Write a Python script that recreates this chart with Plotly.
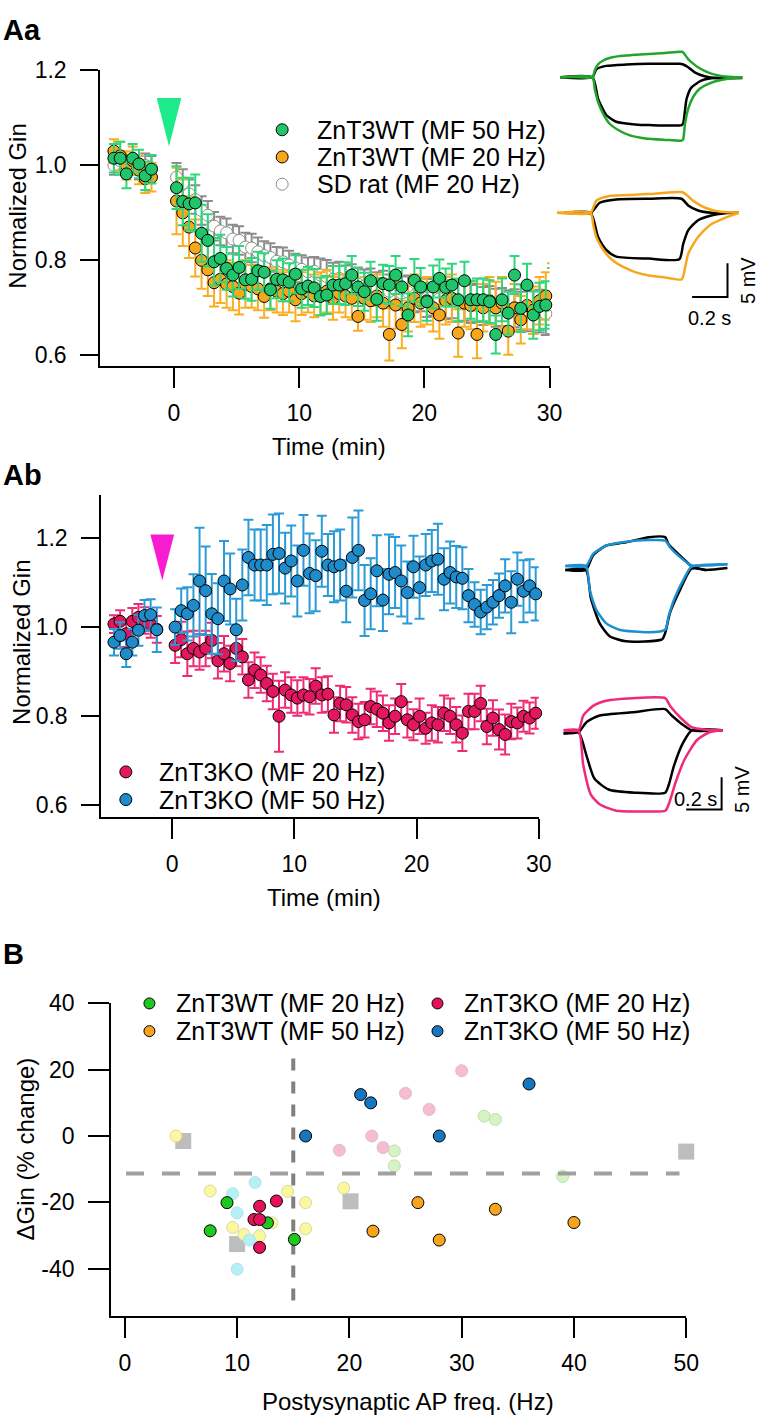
import plotly.graph_objects as go

W, H = 770, 1420
FONT = "Liberation Sans, Arial, Helvetica, sans-serif"
TICK_SIZE, TITLE_SIZE, LEGEND_SIZE, PANEL_SIZE, INSET_SIZE = 23, 24, 25, 29, 20

# ---------------- Panel Aa data (time in min, normalized Gin) ----------------
t_aa = [-4.8, -4.3, -3.8, -3.3, -2.8, -2.3, -1.8,
        0.2, 0.7, 1.2, 1.7, 2.2, 2.7, 3.2, 3.7, 4.2, 4.7, 5.2, 5.7, 6.2, 6.7, 7.2, 7.7, 8.2, 8.7,
        9.2, 9.7, 10.2, 10.7, 11.2, 11.7, 12.2, 12.7, 13.2, 13.7, 14.2, 14.7, 15.2, 15.7, 16.2,
        16.7, 17.2, 17.7, 18.2, 18.7, 19.2, 19.7, 20.2, 20.7, 21.2, 21.7, 22.2, 22.7, 23.2, 23.7,
        24.2, 24.7, 25.2, 25.7, 26.2, 26.7, 27.2, 27.7, 28.2, 28.7, 29.2, 29.7, 30.2]

gin_wt50 = [1.015, 1.015, 0.982, 1.015, 1.003, 0.978, 0.992,
            0.953, 0.924, 0.919, 0.921, 0.857, 0.842, 0.797, 0.804, 0.783, 0.769, 0.785, 0.759,
            0.760, 0.778, 0.775, 0.738, 0.760, 0.759, 0.754, 0.771, 0.740, 0.746, 0.742, 0.724,
            0.727, 0.748, 0.748, 0.751, 0.769, 0.744, 0.734, 0.757, 0.718, 0.751, 0.748, 0.769,
            0.744, 0.685, 0.758, 0.744, 0.713, 0.744, 0.762, 0.743, 0.748, 0.717, 0.757, 0.717,
            0.717, 0.717, 0.713, 0.644, 0.717, 0.689, 0.769, 0.699, 0.748, 0.685, 0.703, 0.706, 0.724]
err_wt50 = [0.03, 0.035, 0.03, 0.03, 0.03, 0.03, 0.03,
            0.045, 0.05, 0.055, 0.06, 0.06, 0.055, 0.05, 0.05, 0.045, 0.045,
            0.045, 0.04, 0.045, 0.04, 0.04, 0.04, 0.04, 0.045, 0.04, 0.04,
            0.04, 0.04, 0.04, 0.04, 0.04, 0.04, 0.04, 0.045, 0.04, 0.04,
            0.04, 0.04, 0.045, 0.04, 0.04, 0.04, 0.04, 0.045, 0.045, 0.04,
            0.04, 0.045, 0.04, 0.04, 0.045, 0.045, 0.04, 0.04, 0.045, 0.045,
            0.045, 0.04, 0.045, 0.045, 0.04, 0.05, 0.045, 0.05, 0.05, 0.05, 0.06]

gin_wt20 = [1.03, 1.02, 1.0, 1.01, 0.99, 0.972, 0.975,
            0.925, 0.90, 0.87, 0.826, 0.80, 0.78, 0.753, 0.76, 0.75, 0.745, 0.731, 0.75, 0.745,
            0.74, 0.724, 0.74, 0.735, 0.73, 0.735, 0.717, 0.73, 0.735, 0.725, 0.73, 0.735, 0.72,
            0.73, 0.725, 0.72, 0.682, 0.72, 0.715, 0.725, 0.71, 0.644, 0.706, 0.665, 0.70, 0.72,
            0.71, 0.715, 0.70, 0.685, 0.715, 0.72, 0.647, 0.71, 0.705, 0.644, 0.70, 0.715, 0.70,
            0.71, 0.651, 0.70, 0.675, 0.705, 0.695, 0.715, 0.725, 0.744]
err_wt20 = [0.025, 0.03, 0.03, 0.03, 0.03, 0.03, 0.03,
            0.07, 0.07, 0.065, 0.06, 0.06, 0.055, 0.05, 0.05, 0.05, 0.05,
            0.045, 0.05, 0.045, 0.045, 0.045, 0.045, 0.045, 0.045, 0.045, 0.045,
            0.045, 0.045, 0.045, 0.045, 0.045, 0.045, 0.04, 0.045, 0.045, 0.03,
            0.045, 0.045, 0.045, 0.05, 0.055, 0.05, 0.05, 0.05, 0.05, 0.05,
            0.05, 0.05, 0.05, 0.05, 0.05, 0.05, 0.05, 0.05, 0.05, 0.05,
            0.05, 0.055, 0.055, 0.05, 0.05, 0.05, 0.05, 0.05, 0.05, 0.05, 0.05]

gin_sd = [1.0, 1.01, 0.995, 1.0, 0.99, 1.0, 0.995,
          0.975, 0.962, 0.94, 0.928, 0.905, 0.895, 0.872, 0.862, 0.858, 0.845,
          0.842, 0.828, 0.826, 0.818, 0.81, 0.806, 0.798, 0.797, 0.79, 0.784,
          0.781, 0.776, 0.777, 0.769, 0.766, 0.76, 0.762, 0.754, 0.757, 0.75,
          0.746, 0.748, 0.74, 0.743, 0.735, 0.738, 0.731, 0.733, 0.726, 0.728,
          0.721, 0.724, 0.719, 0.716, 0.718, 0.711, 0.713, 0.708, 0.71, 0.704,
          0.706, 0.70, 0.702, 0.697, 0.699, 0.694, 0.696, 0.69, 0.693, 0.688, 0.69]
err_sd = [0.02, 0.02, 0.02, 0.02, 0.02, 0.025, 0.025,
          0.03, 0.03, 0.03, 0.03, 0.03, 0.03, 0.03, 0.03, 0.03, 0.03,
          0.03, 0.03, 0.03, 0.03, 0.03, 0.03, 0.03, 0.03, 0.03, 0.03,
          0.03, 0.03, 0.03, 0.035, 0.035, 0.035, 0.035, 0.035, 0.035, 0.035,
          0.035, 0.035, 0.035, 0.035, 0.035, 0.035, 0.035, 0.035, 0.035, 0.035,
          0.04, 0.04, 0.04, 0.04, 0.04, 0.04, 0.04, 0.04, 0.04, 0.04,
          0.04, 0.04, 0.04, 0.04, 0.04, 0.04, 0.045, 0.045, 0.045, 0.045, 0.045]

# ---------------- Panel Ab data ----------------
t_ab = [-4.75, -4.25, -3.75, -3.25, -2.75, -2.25, -1.75, -1.25,
        0.25, 0.75, 1.25, 1.75, 2.25, 2.75, 3.25, 3.75, 4.25, 4.75, 5.25, 5.75, 6.25, 6.75,
        7.25, 7.75, 8.25, 8.75, 9.25, 9.75, 10.25, 10.75, 11.25, 11.75, 12.25, 12.75, 13.25,
        13.75, 14.25, 14.75, 15.25, 15.75, 16.25, 16.75, 17.25, 17.75, 18.25, 18.75, 19.25,
        19.75, 20.25, 20.75, 21.25, 21.75, 22.25, 22.75, 23.25, 23.75, 24.25, 24.75, 25.25,
        25.75, 26.25, 26.75, 27.25, 27.75, 28.25, 28.75, 29.25, 29.75]

gin_ko20 = [1.007, 1.013, 0.985, 1.013, 1.022, 1.015, 1.006, 0.995,
            0.959, 0.972, 0.940, 0.952, 0.944, 0.952, 0.970, 0.924, 0.940, 0.918,
            0.952, 0.933, 0.881, 0.903, 0.892, 0.873, 0.855, 0.799, 0.858, 0.847,
            0.840, 0.847, 0.843, 0.867, 0.847, 0.849, 0.802, 0.828, 0.825, 0.802,
            0.787, 0.791, 0.821, 0.815, 0.806, 0.784, 0.799, 0.832, 0.791, 0.780,
            0.799, 0.772, 0.784, 0.780, 0.806, 0.799, 0.780, 0.761, 0.810, 0.810,
            0.828, 0.776, 0.795, 0.769, 0.758, 0.787, 0.784, 0.799, 0.795, 0.806]
err_ko20 = [0.02, 0.025, 0.03, 0.03, 0.03, 0.03, 0.03, 0.03,
            0.04, 0.04, 0.05, 0.04, 0.04, 0.04, 0.04, 0.04, 0.04, 0.04,
            0.04, 0.04, 0.04, 0.04, 0.04, 0.04, 0.04, 0.08, 0.04, 0.04,
            0.04, 0.04, 0.04, 0.04, 0.04, 0.04, 0.04, 0.04, 0.04, 0.04,
            0.04, 0.04, 0.04, 0.04, 0.04, 0.04, 0.04, 0.04, 0.04, 0.035,
            0.04, 0.035, 0.04, 0.04, 0.04, 0.04, 0.04, 0.04, 0.04, 0.04,
            0.04, 0.04, 0.04, 0.045, 0.045, 0.04, 0.035, 0.035, 0.035, 0.035]

gin_ko50 = [0.966, 0.981, 0.940, 0.966, 0.993, 1.026, 1.028, 0.994,
            1.000, 1.037, 1.030, 1.049, 1.104, 1.082, 1.030, 1.019, 1.104, 1.086,
            0.994, 1.095, 1.157, 1.140, 1.140, 1.140, 1.164, 1.166, 1.133, 1.149,
            1.104, 1.173, 1.121, 1.116, 1.171, 1.140, 1.136, 1.140, 1.081, 1.157,
            1.173, 1.060, 1.075, 1.127, 1.061, 1.119, 1.123, 1.104, 1.078, 1.136,
            1.089, 1.140, 1.149, 1.153, 1.108, 1.123, 1.113, 1.110, 1.071, 1.051,
            1.034, 1.045, 1.056, 1.071, 1.093, 1.056, 1.108, 1.081, 1.093, 1.075]
err_ko50 = [0.03, 0.03, 0.03, 0.03, 0.035, 0.035, 0.035, 0.05,
            0.04, 0.05, 0.06, 0.07, 0.12, 0.1, 0.09, 0.08, 0.09, 0.08,
            0.07, 0.08, 0.085, 0.08, 0.08, 0.09, 0.09, 0.09, 0.08, 0.08,
            0.08, 0.08, 0.09, 0.08, 0.08, 0.07, 0.08, 0.08, 0.07, 0.09,
            0.09, 0.08, 0.08, 0.08, 0.07, 0.09, 0.08, 0.08, 0.07, 0.07,
            0.07, 0.07, 0.07, 0.08, 0.07, 0.07, 0.07, 0.07, 0.06, 0.05,
            0.05, 0.05, 0.05, 0.05, 0.06, 0.07, 0.06, 0.07, 0.06, 0.06]

# ---------------- Panel B data (Hz, % change) ----------------
wt20_x = [7.6, 9.1, 12.7, 15.1]
wt20_y = [-28.6, -20.1, -26.2, -31.2]
wt50_x = [22.1, 26.1, 28.0, 33.0, 40.0]
wt50_y = [-28.7, -20.1, -31.4, -22.1, -26.1]
ko20_x = [11.5, 12.0, 12.0, 12.0, 13.5]
ko20_y = [-25.2, -25.2, -21.2, -33.6, -19.6]
ko50_x = [16.1, 21.0, 21.9, 28.0, 36.0]
ko50_y = [0.0, 12.5, 10.0, 0.0, 15.7]
pale_yellow_x = [4.55, 7.6, 9.6, 10.6, 12.0, 13.1, 14.5, 16.1, 16.1, 19.5]
pale_yellow_y = [0.0, -16.6, -27.6, -29.7, -30.1, -26.2, -16.7, -20.1, -28.0, -15.7]
pale_cyan_x = [9.6, 10.0, 11.1, 10.0, 11.6]
pale_cyan_y = [-17.4, -23.2, -31.4, -40.2, -14.0]
pale_pink_x = [19.1, 22.0, 23.0, 25.0, 27.1, 30.0]
pale_pink_y = [-4.3, 0.0, -3.5, 12.9, 8.0, 19.7]
pale_green_x = [24.0, 24.0, 32.0, 33.0, 39.0]
pale_green_y = [-4.5, -9.0, 6.0, 5.0, -12.2]
square_x = [5.2, 10.0, 20.1, 50.0]
square_y = [-1.5, -32.6, -19.7, -4.7]
HREF_Y, HREF_X0, HREF_X1 = -11.3, 0.1, 49.4
VREF_X, VREF_Y0, VREF_Y1 = 15.0, 23.4, -52.3

# ---------------- Example traces (time s, mV relative to baseline) ----------------
aa_g_up_t = [0.028, 0.10, 0.209, 0.222, 0.24, 0.27, 0.31, 0.36, 0.43, 0.528, 0.62, 0.715, 0.725, 0.75, 0.78, 0.806, 0.84, 0.88, 0.935, 1.0, 1.056]
aa_g_up_v = [0, 0.05, 0, 1.0, 1.9, 2.5, 2.9, 3.15, 3.3, 3.45, 3.6, 3.8, 3.6, 2.7, 2.0, 1.5, 1.0, 0.55, 0.2, 0.05, 0]
aa_g_dn_t = [0.028, 0.209, 0.222, 0.241, 0.269, 0.306, 0.352, 0.417, 0.509, 0.62, 0.713, 0.722, 0.731, 0.75, 0.778, 0.815, 0.861, 0.935, 1.056]
aa_g_dn_v = [0, 0, -1.7, -3.7, -5.4, -6.9, -7.8, -8.6, -9.1, -9.3, -9.4, -9.2, -7.1, -4.7, -2.9, -1.7, -1.0, -0.4, 0]
aa_gk_up_t = [0.028, 0.209, 0.231, 0.287, 0.40, 0.528, 0.70, 0.722, 0.75, 0.787, 0.843, 0.90, 1.056]
aa_gk_up_v = [0, 0, 1.2, 1.7, 1.9, 2.0, 2.0, 1.9, 1.5, 0.74, 0.15, -0.1, -0.1]
aa_gk_dn_t = [0.028, 0.209, 0.241, 0.287, 0.343, 0.45, 0.528, 0.713, 0.722, 0.741, 0.769, 0.824, 0.88, 1.0]
aa_gk_dn_v = [0, 0, -3.2, -5.6, -6.6, -7.0, -7.1, -7.1, -6.8, -3.2, -1.5, -0.5, -0.15, 0]

aa_o_up_t = [0.009, 0.198, 0.231, 0.306, 0.45, 0.528, 0.713, 0.73, 0.769, 0.843, 0.935, 1.037]
aa_o_up_v = [0, 0, 1.8, 2.5, 2.7, 2.8, 3.1, 2.9, 2.0, 0.8, 0.15, 0]
aa_o_dn_t = [0.009, 0.198, 0.215, 0.231, 0.258, 0.287, 0.33, 0.38, 0.45, 0.528, 0.62, 0.713, 0.722, 0.75, 0.78, 0.806, 0.84, 0.88, 0.972, 1.037]
aa_o_dn_v = [0, 0, -2.0, -3.6, -5.0, -6.1, -7.2, -8.0, -8.8, -9.3, -9.6, -9.9, -9.4, -6.1, -4.6, -3.6, -2.6, -1.7, -0.6, 0]
aa_ok_up_t = [0.05, 0.198, 0.25, 0.343, 0.528, 0.713, 0.75, 0.806, 0.88, 1.037]
aa_ok_up_v = [0, 0, 1.5, 2.0, 2.1, 2.1, 1.1, 0.35, 0, 0]
aa_ok_dn_t = [0.05, 0.198, 0.241, 0.287, 0.343, 0.528, 0.70, 0.722, 0.75, 0.806, 0.88, 0.972]
aa_ok_dn_v = [0, 0, -3.6, -5.5, -6.5, -6.8, -6.9, -4.6, -2.6, -1.1, -0.4, 0]

ab_b_up_t = [0.056, 0.172, 0.213, 0.287, 0.398, 0.528, 0.62, 0.648, 0.704, 0.769, 0.85, 0.972]
ab_b_up_v = [0, 0, 1.9, 3.2, 3.8, 4.05, 3.95, 2.9, 1.4, 0.1, 0.1, 0.3]
ab_b_dn_t = [0.056, 0.172, 0.194, 0.231, 0.287, 0.361, 0.528, 0.62, 0.639, 0.676, 0.731, 0.769, 0.972]
ab_b_dn_v = [0, 0, -3.7, -6.8, -8.9, -9.9, -10.3, -9.9, -7.8, -4.8, -1.7, -0.1, 0.3]
ab_bk_up_t = [0.056, 0.172, 0.213, 0.287, 0.398, 0.528, 0.62, 0.639, 0.713, 0.769, 0.843, 0.972]
ab_bk_up_v = [-0.6, -0.6, 1.7, 3.2, 3.7, 4.5, 4.5, 3.4, 1.4, 0, -0.6, -0.3]
ab_bk_dn_t = [0.056, 0.172, 0.2, 0.25, 0.306, 0.398, 0.602, 0.62, 0.648, 0.704, 0.769, 0.85]
ab_bk_dn_v = [-0.6, -0.6, -5.0, -8.9, -10.9, -11.7, -11.4, -10.4, -7.2, -3.7, -0.4, -0.6]

ab_m_up_t = [0.046, 0.13, 0.157, 0.213, 0.287, 0.435, 0.62, 0.648, 0.713, 0.769, 0.85, 0.944]
ab_m_up_v = [0, 0, 2.3, 3.8, 4.6, 5.0, 5.0, 3.8, 1.8, 0.5, 0.1, 0]
ab_m_dn_t = [0.046, 0.13, 0.157, 0.2, 0.25, 0.343, 0.5, 0.62, 0.64, 0.68, 0.73, 0.8, 0.87, 0.944]
ab_m_dn_v = [0, 0, -5.4, -10.0, -11.5, -12.5, -12.6, -12.5, -11.5, -8.0, -4.5, -1.5, -0.3, 0]
ab_mk_up_t = [0.046, 0.13, 0.176, 0.25, 0.435, 0.62, 0.657, 0.713, 0.769, 0.944]
ab_mk_up_v = [-0.5, -0.3, 1.3, 2.3, 2.8, 3.3, 2.3, 1.0, 0, 0]
ab_mk_dn_t = [0.046, 0.13, 0.176, 0.22, 0.3, 0.45, 0.62, 0.64, 0.67, 0.72, 0.77, 0.944]
ab_mk_dn_v = [-0.5, -0.3, -4.0, -7.5, -9.2, -9.7, -9.7, -8.5, -5.5, -2.0, 0, 0]

# ---------------- colours ----------------
C_WT50, C_WT50_ERR = "#22c46b", "#2dd77c"
C_WT20, C_WT20_ERR = "#f6a71c", "#f9ae22"
C_SD = "#8c8c8c"
C_KO20, C_KO20_ERR = "#e2175d", "#ef2c73"
C_KO50, C_KO50_ERR = "#1f8bcb", "#2b9bd7"
C_B_WT20, C_B_WT50, C_B_KO20, C_B_KO50 = "#1fc81f", "#f7a41c", "#e5115c", "#1577bf"
C_TR_GREEN, C_TR_ORANGE, C_TR_BLUE, C_TR_MAGENTA = "#22a52d", "#f6a81c", "#1b90d1", "#ef2a7a"

# ---------------- geometry (pixels) ----------------
def fx(p):
    return p / W

def fy(p):
    return 1 - p / H

AA_L, AA_R, AA_T, AA_B = 102, 559, 58, 357
AA_X0, AA_PXMIN = 177, (559 - 177) / 30.0
AA_Y12, AA_Y06 = 58, 346
AB_L, AB_R, AB_T, AB_B = 103, 548, 487, 813
AB_X0, AB_PXMIN = 175, (548 - 175) / 30.0
AB_Y12, AB_Y06 = 531, 800
B_L, B_R, B_T, B_B = 113, 698, 1001, 1317
B_X0, B_PXHZ = 127, (698 - 127) / 50.0
B_Y40, B_Ym40 = 1001, 1269


def xrange_from(l, r, x0, s):
    return [(l - x0) / s, (r - x0) / s]


def yrange_lin(t, b, y_hi_px, y_lo_px, hi, lo):
    s = (y_lo_px - y_hi_px) / (hi - lo)
    return [lo - (b - y_lo_px) / s, hi + (y_hi_px - t) / s]


AA_XR = xrange_from(AA_L, AA_R, AA_X0, AA_PXMIN)
AA_YR = yrange_lin(AA_T, AA_B, AA_Y12, AA_Y06, 1.2, 0.6)
AB_XR = xrange_from(AB_L, AB_R, AB_X0, AB_PXMIN)
AB_YR = yrange_lin(AB_T, AB_B, AB_Y12, AB_Y06, 1.2, 0.6)
B_XR = xrange_from(B_L, B_R, B_X0, B_PXHZ)
B_YR = yrange_lin(B_T, B_B, B_Y40, B_Ym40, 40, -40)

INS_L, INS_R = 565, 765
AAI_T, AAI_B, AAI_PXMV = 30, 320, 6.8
ABI_T, ABI_B, ABI_PXMV = 500, 815, 6.5
AAI_TOP_MV = (65 - AAI_T) / AAI_PXMV
AAI_YR = [AAI_TOP_MV - (AAI_B - AAI_T) / AAI_PXMV, AAI_TOP_MV]
ABI_TOP_MV = (559 - ABI_T) / ABI_PXMV
ABI_YR = [ABI_TOP_MV - (ABI_B - ABI_T) / ABI_PXMV, ABI_TOP_MV]
INS_XR = [0, (INS_R - INS_L) / 180.0]
AA_ORANGE_OFFSET = -(202 - 65) / AAI_PXMV
AB_MAGENTA_OFFSET = -(725 - 559) / ABI_PXMV

fig = go.Figure()


def err_scatter(x, y, err, fill, line, ecolor, xa, ya):
    fig.add_trace(go.Scatter(
        x=x, y=y, mode="markers", xaxis=xa, yaxis=ya, showlegend=False, cliponaxis=False,
        marker=dict(size=12, color=fill, line=dict(color=line, width=1)),
        error_y=dict(type="data", array=err, color=ecolor, thickness=2, width=5)))


err_scatter(t_aa, gin_sd, err_sd, "white", C_SD, C_SD, "x", "y")
err_scatter(t_aa, gin_wt20, err_wt20, C_WT20, "black", C_WT20_ERR, "x", "y")
err_scatter(t_aa, gin_wt50, err_wt50, C_WT50, "black", C_WT50_ERR, "x", "y")
err_scatter(t_ab, gin_ko20, err_ko20, C_KO20, "black", C_KO20_ERR, "x2", "y2")
err_scatter(t_ab, gin_ko50, err_ko50, C_KO50, "black", C_KO50_ERR, "x2", "y2")


def b_scatter(x, y, fill, line, symbol="circle", size=12):
    fig.add_trace(go.Scatter(
        x=x, y=y, mode="markers", xaxis="x3", yaxis="y3", showlegend=False, cliponaxis=False,
        marker=dict(size=size, symbol=symbol, color=fill,
                    line=dict(color=line, width=1 if line else 0))))


b_scatter(square_x, square_y, "#bdbdbd", None, symbol="square", size=16)
b_scatter(pale_yellow_x, pale_yellow_y, "#fbf79c", "#d9d7a8")
b_scatter(pale_cyan_x, pale_cyan_y, "#b4f0f6", "#b8e2e8")
b_scatter(pale_pink_x, pale_pink_y, "#f6bdd0", "#e2bac8")
b_scatter(pale_green_x, pale_green_y, "#d5f3c4", "#bfddae")
fig.add_trace(go.Scatter(x=[HREF_X0, HREF_X1], y=[HREF_Y, HREF_Y], mode="lines", xaxis="x3", yaxis="y3",
                         showlegend=False, line=dict(color="#a0a0a0", width=4, dash="18px,18px")))
fig.add_trace(go.Scatter(x=[VREF_X, VREF_X], y=[VREF_Y0, VREF_Y1], mode="lines", xaxis="x3", yaxis="y3",
                         showlegend=False, line=dict(color="#808080", width=4, dash="12px,11px")))
b_scatter(wt20_x, wt20_y, C_B_WT20, "black")
b_scatter(wt50_x, wt50_y, C_B_WT50, "black")
b_scatter(ko20_x, ko20_y, C_B_KO20, "black")
b_scatter(ko50_x, ko50_y, C_B_KO50, "black")


def tr(t, v, color, xa, ya, offset=0.0):
    fig.add_trace(go.Scatter(x=t, y=[val + offset for val in v], mode="lines", xaxis=xa, yaxis=ya,
                             showlegend=False, line=dict(color=color, width=2.5, shape="spline", smoothing=0.6)))


tr(aa_gk_up_t, aa_gk_up_v, "black", "x4", "y4")
tr(aa_gk_dn_t, aa_gk_dn_v, "black", "x4", "y4")
tr(aa_g_up_t, aa_g_up_v, C_TR_GREEN, "x4", "y4")
tr(aa_g_dn_t, aa_g_dn_v, C_TR_GREEN, "x4", "y4")
tr(aa_ok_up_t, aa_ok_up_v, "black", "x4", "y4", AA_ORANGE_OFFSET)
tr(aa_ok_dn_t, aa_ok_dn_v, "black", "x4", "y4", AA_ORANGE_OFFSET)
tr(aa_o_up_t, aa_o_up_v, C_TR_ORANGE, "x4", "y4", AA_ORANGE_OFFSET)
tr(aa_o_dn_t, aa_o_dn_v, C_TR_ORANGE, "x4", "y4", AA_ORANGE_OFFSET)

tr(ab_bk_up_t, ab_bk_up_v, "black", "x5", "y5")
tr(ab_bk_dn_t, ab_bk_dn_v, "black", "x5", "y5")
tr(ab_b_up_t, ab_b_up_v, C_TR_BLUE, "x5", "y5")
tr(ab_b_dn_t, ab_b_dn_v, C_TR_BLUE, "x5", "y5")
tr(ab_mk_up_t, ab_mk_up_v, "black", "x5", "y5", AB_MAGENTA_OFFSET)
tr(ab_mk_dn_t, ab_mk_dn_v, "black", "x5", "y5", AB_MAGENTA_OFFSET)
tr(ab_m_up_t, ab_m_up_v, C_TR_MAGENTA, "x5", "y5", AB_MAGENTA_OFFSET)
tr(ab_m_dn_t, ab_m_dn_v, C_TR_MAGENTA, "x5", "y5", AB_MAGENTA_OFFSET)

SB_T, SB_MV = 0.2, 5.0
AA_SB_X, AA_SB_Y = (740 - INS_L) / 180.0, AAI_TOP_MV - (287 - AAI_T) / AAI_PXMV
AB_SB_X, AB_SB_Y = (734 - INS_L) / 180.0, ABI_TOP_MV - (805 - ABI_T) / ABI_PXMV
for sx, sy, xa, ya in [(AA_SB_X, AA_SB_Y, "x4", "y4"), (AB_SB_X, AB_SB_Y, "x5", "y5")]:
    fig.add_trace(go.Scatter(x=[sx - SB_T, sx, sx], y=[sy, sy, sy + SB_MV], mode="lines", xaxis=xa, yaxis=ya,
                             showlegend=False, line=dict(color="black", width=2)))


def main_axis(domain, rng, vals, texts, ticklen, standoff, anchor):
    return dict(domain=domain, range=rng, tickvals=vals, ticktext=texts, anchor=anchor,
                showline=True, linecolor="black", linewidth=2, ticks="outside", ticklen=ticklen,
                tickwidth=2, tickcolor="black", showgrid=False, zeroline=False,
                tickfont=dict(family=FONT, size=TICK_SIZE, color="black"), ticklabelstandoff=standoff,
                fixedrange=True)


def hidden_axis(domain, rng, anchor):
    return dict(domain=domain, range=rng, visible=False, anchor=anchor, fixedrange=True)


t_ticks = [0, 10, 20, 30]
g_ticks = [0.6, 0.8, 1.0, 1.2]
hz_ticks = [0, 10, 20, 30, 40, 50]
pc_ticks = [-40, -20, 0, 20, 40]

fig.update_layout(
    xaxis=main_axis([fx(AA_L), fx(AA_R)], AA_XR, t_ticks, [str(v) for v in t_ticks], 20, 5, "y"),
    yaxis=main_axis([fy(AA_B), fy(AA_T)], AA_YR, g_ticks, ["%.1f" % v for v in g_ticks], 18, 9, "x"),
    xaxis2=main_axis([fx(AB_L), fx(AB_R)], AB_XR, t_ticks, [str(v) for v in t_ticks], 20, 5, "y2"),
    yaxis2=main_axis([fy(AB_B), fy(AB_T)], AB_YR, g_ticks, ["%.1f" % v for v in g_ticks], 18, 9, "x2"),
    xaxis3=main_axis([fx(B_L), fx(B_R)], B_XR, hz_ticks, [str(v) for v in hz_ticks], 20, 5, "y3"),
    yaxis3=main_axis([fy(B_B), fy(B_T)], B_YR, pc_ticks, [str(v) for v in pc_ticks], 21, 9, "x3"),
    xaxis4=hidden_axis([fx(INS_L), fx(INS_R)], INS_XR, "y4"),
    yaxis4=hidden_axis([fy(AAI_B), fy(AAI_T)], AAI_YR, "x4"),
    xaxis5=hidden_axis([fx(INS_L), fx(INS_R)], INS_XR, "y5"),
    yaxis5=hidden_axis([fy(ABI_B), fy(ABI_T)], ABI_YR, "x5"),
)

ARROW_AA = dict(t=-0.4, top=1.142, bot=1.04, hw=0.98, color="#1dea8a")
ARROW_AB = dict(t=-0.8, top=1.209, bot=1.105, hw=0.97, color="#f81bd0")
shapes = []
for a, xr, yr in [(ARROW_AA, "x", "y"), (ARROW_AB, "x2", "y2")]:
    shapes.append(dict(type="path", xref=xr, yref=yr, line=dict(width=0), fillcolor=a["color"],
                       path=f"M {a['t'] - a['hw']},{a['top']} L {a['t'] + a['hw']},{a['top']} L {a['t']},{a['bot']} Z"))


def legend_dot(px, py, fill, line, size=12):
    r = size / 2
    return dict(type="circle", xref="paper", yref="paper", xsizemode="pixel", ysizemode="pixel",
                xanchor=fx(px), yanchor=fy(py), x0=-r, x1=r, y0=-r, y1=r,
                fillcolor=fill, line=dict(color=line, width=1))


annotations = []


def ann(text, px, py, size=TITLE_SIZE, xanchor="center", yanchor="middle", angle=0, bold=False):
    annotations.append(dict(text=f"<b>{text}</b>" if bold else text, x=fx(px), y=fy(py),
                            xref="paper", yref="paper", showarrow=False, xanchor=xanchor,
                            yanchor=yanchor, textangle=angle,
                            font=dict(family=FONT, size=size, color="black")))


legend_aa = [("ZnT3WT (MF 50 Hz)", C_WT50, "black"), ("ZnT3WT (MF 20 Hz)", C_WT20, "black"),
             ("SD rat (MF 20 Hz)", "white", C_SD)]
for i, (label, fill, line) in enumerate(legend_aa):
    py = 118 + 27.5 * i
    shapes.append(legend_dot(287, py, fill, line))
    ann(label, 320, py, size=LEGEND_SIZE, xanchor="left")

legend_ab = [("ZnT3KO (MF 20 Hz)", C_KO20), ("ZnT3KO (MF 50 Hz)", C_KO50)]
for i, (label, fill) in enumerate(legend_ab):
    py = 767 + 28 * i
    shapes.append(legend_dot(128, py, fill, "black"))
    ann(label, 160, py, size=LEGEND_SIZE, xanchor="left")

legend_b = [("ZnT3WT (MF 20 Hz)", C_B_WT20, 152, 1001), ("ZnT3WT (MF 50 Hz)", C_B_WT50, 152, 1029),
            ("ZnT3KO (MF 20 Hz)", C_B_KO20, 445, 1001), ("ZnT3KO (MF 50 Hz)", C_B_KO50, 445, 1029)]
for label, fill, px, py in legend_b:
    shapes.append(legend_dot(px, py, fill, "black", size=11))
    ann(label, px + 25, py, size=LEGEND_SIZE, xanchor="left")

ann("Aa", 1, 17, size=PANEL_SIZE, xanchor="left", bold=True)
ann("Ab", 1, 467, size=PANEL_SIZE, xanchor="left", bold=True)
ann("B", 1, 951, size=PANEL_SIZE, xanchor="left", bold=True)
ann("Normalized Gin", 18, 195, angle=-90)
ann("Normalized Gin", 22, 636, angle=-90)
ann("ΔGin (% change)", 26, 1148, angle=-90)
ann("Time (min)", 335, 438)
ann("Time (min)", 330, 894)
ann("Postysynaptic AP freq. (Hz)", 415, 1403)

annotations.append(dict(text="5 mV", x=AA_SB_X + 0.115, y=AA_SB_Y + 2.5, xref="x4", yref="y4", showarrow=False,
                        textangle=-90, font=dict(family=FONT, size=INSET_SIZE, color="black")))
annotations.append(dict(text="0.2 s", x=AA_SB_X - 0.1, y=AA_SB_Y - 3.1, xref="x4", yref="y4", showarrow=False,
                        font=dict(family=FONT, size=INSET_SIZE, color="black")))
annotations.append(dict(text="5 mV", x=AB_SB_X + 0.115, y=AB_SB_Y + 3.2, xref="x5", yref="y5", showarrow=False,
                        textangle=-90, font=dict(family=FONT, size=INSET_SIZE, color="black")))
annotations.append(dict(text="0.2 s", x=AB_SB_X - 0.145, y=AB_SB_Y + 1.7, xref="x5", yref="y5", showarrow=False,
                        font=dict(family=FONT, size=INSET_SIZE, color="black")))

fig.update_layout(
    width=W, height=H, margin=dict(l=0, r=0, t=0, b=0),
    paper_bgcolor="white", plot_bgcolor="white", showlegend=False,
    shapes=shapes, annotations=annotations,
    font=dict(family=FONT, size=20, color="black"),
)

fig.write_html("out.html", config={"displayModeBar": False},
               post_script="document.body.style.margin='0px';document.body.style.overflow='hidden';")
